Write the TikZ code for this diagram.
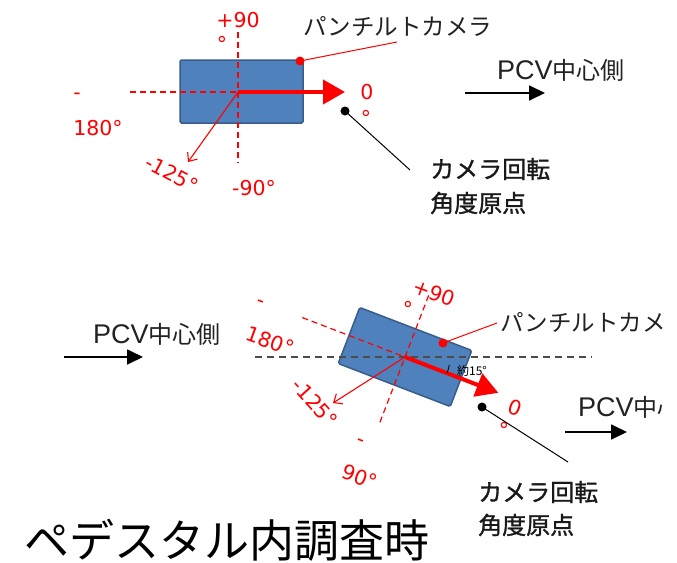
\documentclass[tikz,border=0pt]{standalone}
\usepackage{fontspec}
\setmainfont{Liberation Sans}
\newfontfamily\jp{Noto Sans CJK JP}
\newfontfamily\jpb[FakeBold=1.2]{Noto Sans CJK JP}
\newfontfamily\labfont{DejaVu Sans}
\usetikzlibrary{arrows.meta}
\definecolor{bxfill}{HTML}{4F81BD}
\definecolor{bxdraw}{HTML}{385D8A}
\definecolor{rd}{HTML}{FF0000}
\definecolor{txt}{HTML}{222222}
\newcommand{\pcvtext}{{\rmfamily\fontsize{27}{34}\selectfont PCV}中心側}
\begin{document}
\begin{tikzpicture}[x=1pt,y=-1pt,
  lab/.style={text=rd, font=\labfont\fontsize{20.5}{20.5}\selectfont, inner sep=0pt},
  jpl/.style={text=txt, font=\jp\fontsize{23.5}{34}\selectfont, inner sep=0pt},
  jpbold/.style={text=black!90, font=\jpb\fontsize{24}{34}\selectfont, inner sep=0pt},
  pcvl/.style={text=txt, font=\jp\fontsize{24}{34}\selectfont, inner sep=0pt},
  axisline/.style={rd, line width=1.2pt, dash pattern=on 6pt off 4pt},
  bigarrow/.style={rd, line width=4pt, -{Triangle[length=22pt,width=24pt]}},
  thinarrow/.style={rd, line width=1.1pt, -{Straight Barb[length=7pt,width=12pt]}},
  dirarrow/.style={black, line width=1.8pt, -{Triangle[length=16pt,width=15pt]}},
  leader/.style={line width=1pt},
  dotnode/.style={circle, fill, inner sep=0pt, minimum size=9pt},
  boxnode/.style={fill=bxfill, draw=bxdraw, line width=1.5pt, rounded corners=1.5pt, inner sep=0pt},
]
\useasboundingbox (0,0) rectangle (677,562);
\fill[white] (0,0) rectangle (677,562);

% ---------- top diagram ----------
\node[boxnode, minimum width=123pt, minimum height=63pt] (cam1) at (241.5,91.5) {};
\coordinate (c1) at (238,92);
\coordinate (v1t) at (238,32);
\coordinate (v1b) at (238,163);
\coordinate (h1l) at (130,92);
\coordinate (a1) at (345,92);
\coordinate (m1) at (188,162);
\draw[axisline] (v1t) -- (v1b);
\draw[axisline] (h1l) -- (c1);
\draw[bigarrow] (c1) -- (a1);
\draw[thinarrow] (c1) -- (m1);

\node[lab] (p90a) at (238,20) {+90};
\node[lab] (p90b) at (222,44) {°};
\node[lab] (m180a) at (77,96) {-};
\node[lab] (m180b) at (98,128) {180°};
\node[lab, rotate=-28] (m125a) at (172,174) {-125°};
\node[lab] (m90a) at (254,188) {-90°};
\node[lab] (z0a) at (367,92) {0};
\node[lab] (z0b) at (366,118) {°};

\node[dotnode, rd] (d1) at (300,61) {};
\coordinate (l1) at (397,42);
\draw[rd, line width=1pt] (d1.center) -- (l1);
\node[jpl, anchor=west] (t1) at (303,26) {パンチルトカメラ};

\node[dotnode] (d2) at (345,111) {};
\coordinate (l2) at (410,170);
\draw[leader] (d2.center) -- (l2);
\node[jpbold, anchor=west] (t2a) at (430,169) {カメラ回転};
\node[jpbold, anchor=west] (t2b) at (430,203) {角度原点};

\node[pcvl, anchor=base west] (pcv1) at (497,79) {\pcvtext};
\coordinate (pa1) at (465,93);
\coordinate (pb1) at (545,93);
\draw[dirarrow] (pa1) -- (pb1);

% ---------- bottom diagram ----------
\coordinate (c2) at (405,357);
\begin{scope}[shift={(405,357)}, rotate=-21]
  \node[boxnode, transform shape, minimum width=120pt, minimum height=60pt] (cam2) at (0,0) {};
  \coordinate (h2l) at (-110,0);
  \coordinate (v2t) at (0,-66);
  \coordinate (v2b) at (0,72);
  \coordinate (a2) at (100,0);
\end{scope}
\coordinate (hd1) at (255,357);
\coordinate (hd2) at (592,357);
\draw[black!70, line width=1.8pt, dash pattern=on 7pt off 5pt] (hd1) -- (hd2);
\draw[axisline] (h2l) -- (c2);
\draw[axisline] (v2t) -- (v2b);
\draw[bigarrow] (c2) -- (a2);
\coordinate (m2) at (333,403);
\draw[thinarrow] (c2) -- (m2);
\coordinate (arcA) at (449.3,364.8);
\coordinate (arcB) at (447,373.1);
\draw[black, line width=0.8pt] (arcA) .. controls (448.8,367.6) and (448.1,370.4) .. (arcB);
\node[font=\jp\fontsize{12}{12}\selectfont, inner sep=0pt] (yaku) at (472,371) {約15°};

\node[lab, rotate=-20] (q90a) at (434,293) {+90};
\node[lab] (q90b) at (408,309) {°};
\node[lab, rotate=-20] (q180a) at (260,304) {-};
\node[lab, rotate=-20] (q180b) at (270,341) {180°};
\node[lab, rotate=-48] (q125) at (315,403) {-125°};
\node[lab, rotate=-20] (qm90a) at (360,443) {-};
\node[lab, rotate=-20] (qm90b) at (360,477) {90°};
\node[lab, rotate=-20] (q0a) at (515,408) {0};
\node[lab] (q0b) at (504,430) {°};

\node[dotnode, rd] (d3) at (443,343) {};
\coordinate (l3) at (497,323);
\draw[rd, line width=1pt] (d3.center) -- (l3);

\begin{scope}
  \clip (0,0) rectangle (663,562);
  \node[jpl, anchor=west] (t3) at (500,322) {パンチルトカメラ};
  \node[pcvl, anchor=base west] (pcv3) at (578,416) {\pcvtext};
\end{scope}
\coordinate (pa3) at (565,432);
\coordinate (pb3) at (627,432);
\draw[dirarrow] (pa3) -- (pb3);

\node[dotnode] (d4) at (482,407) {};
\coordinate (l4) at (568,462);
\draw[leader] (d4.center) -- (l4);
\node[jpbold, anchor=west] (t4a) at (478,492) {カメラ回転};
\node[jpbold, anchor=west] (t4b) at (478,525) {角度原点};

\node[pcvl, anchor=base west] (pcv2) at (93,343) {\pcvtext};
\coordinate (pa2) at (64,357);
\coordinate (pb2) at (143,357);
\draw[dirarrow] (pa2) -- (pb2);

\node[font=\jp\fontsize{45}{45}\selectfont, anchor=west, inner sep=0pt] (cap) at (24,540) {ペデスタル内調査時};
\end{tikzpicture}
\end{document}
